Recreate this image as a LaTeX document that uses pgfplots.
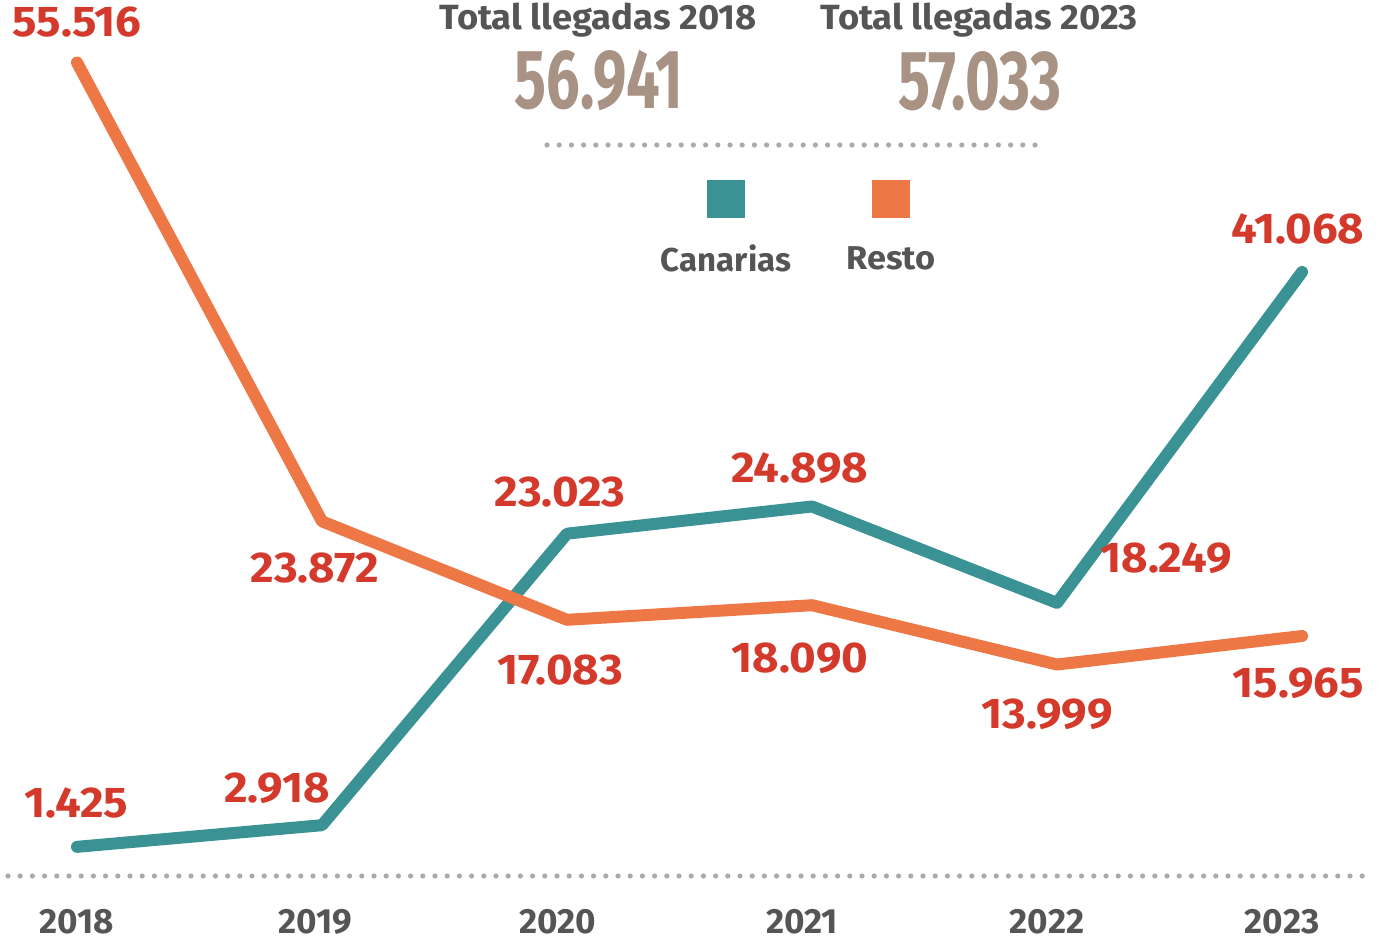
\documentclass[border=0pt]{standalone}
\usepackage{pgfplots}
\pgfplotsset{compat=1.18}
\usepackage{fontspec}
\setmainfont{Fira Sans}
\definecolor{teal}{HTML}{3A9294}
\definecolor{orng}{HTML}{EE7746}
\definecolor{lblred}{HTML}{D33A2C}
\definecolor{txtgray}{HTML}{555555}
\definecolor{bignum}{HTML}{A89284}
\definecolor{dotgray}{HTML}{AAAAAA}
\begin{document}
\begin{tikzpicture}
\path[use as bounding box] (0,0) rectangle (693.5pt,471.5pt);
\begin{axis}[at={(0,0)}, anchor=south west, scale only axis,
  width=693.5pt, height=471.5pt,
  xmin=2017.6857, xmax=2023.3469, ymin=-5.207, ymax=59.83,
  axis lines=none, xtick=\empty, ytick=\empty, clip=false]
\addplot[color=teal, line width=6pt, line cap=round, line join=round] coordinates {
 (2018,1.425) (2019,2.918) (2020,23.023) (2021,24.898) (2022,18.249) (2023,41.068)};
\addplot[color=orng, line width=6pt, line cap=round, line join=round] coordinates {
 (2018,55.516) (2019,23.872) (2020,17.083) (2021,18.090) (2022,13.999) (2023,15.965)};
\end{axis}
\begin{scope}[x=0.5pt, y=-0.5pt, shift={(0,471.5pt)}]
 % dotted lines
 \draw[dotgray, line width=2.6pt, line cap=round, dash pattern=on 0pt off 6.1pt] (8,876) -- (1366,876);
 \draw[dotgray, line width=2.6pt, line cap=round, dash pattern=on 0pt off 6.1pt] (547,145) -- (1043,145);
 % year labels
 \begin{scope}[every node/.style={font=\fontsize{17.5}{17.5}\selectfont\bfseries, text=txtgray}]
 \node at (77,922) {2018};
 \node at (315,922) {2019};
 \node at (558,922) {2020};
 \node at (802,922) {2021};
 \node at (1047,922) {2022};
 \node at (1282,922) {2023};
 \end{scope}
 % headers
 \node[font=\fontsize{17.5}{17.5}\selectfont\bfseries, text=txtgray, xscale=1.04] at (598,20) {Total llegadas 2018};
 \node[font=\fontsize{17.5}{17.5}\selectfont\bfseries, text=txtgray, xscale=1.04] at (979,20) {Total llegadas 2023};
 \node[font=\fontsize{42}{42}\selectfont\bfseries, text=bignum, xscale=0.71] at (599,81) {56.941};
 \node[font=\fontsize{42}{42}\selectfont\bfseries, text=bignum, xscale=0.71] at (980,81) {57.033};
 % legend
 \fill[teal] (707,180) rectangle (745,218);
 \fill[orng] (872,180) rectangle (910,218);
 \node[font=\fontsize{16.5}{16.5}\selectfont\bfseries, text=txtgray] at (726,258) {Canarias};
 \node[font=\fontsize{16.5}{16.5}\selectfont\bfseries, text=txtgray, xscale=1.04] at (891,258) {Resto};
 % data labels
 \begin{scope}[every node/.style={font=\fontsize{21.5}{21.5}\selectfont\bfseries, text=lblred, xscale=1.06}]
 \node at (77,22) {55.516};
 \node at (76,803) {1.425};
 \node at (277,788) {2.918};
 \node at (315,568) {23.872};
 \node at (560,492) {23.023};
 \node at (560,670) {17.083};
 \node at (800,468) {24.898};
 \node at (800,658) {18.090};
 \node at (1166,558) {18.249};
 \node at (1047,714) {13.999};
 \node at (1298,229) {41.068};
 \node at (1298,683) {15.965};
 \end{scope}
\end{scope}
\end{tikzpicture}
\end{document}
